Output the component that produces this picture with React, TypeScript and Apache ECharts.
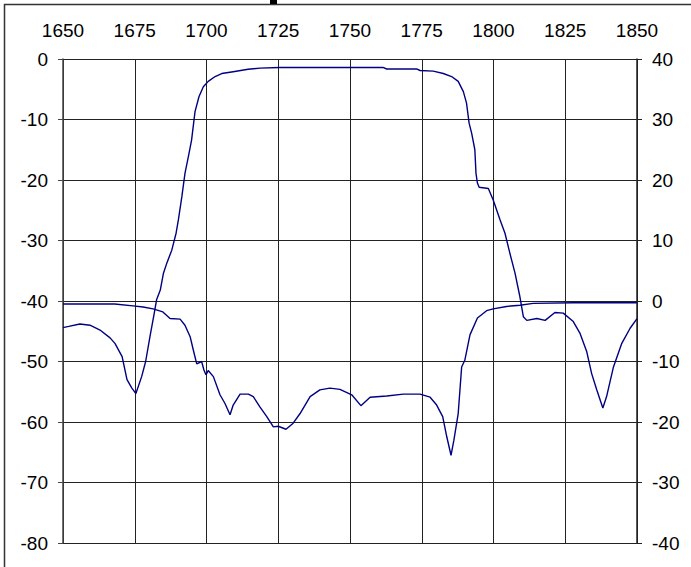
import React, { useEffect, useRef } from "react";
import * as echarts from "echarts";

const xTicks = [1650, 1675, 1700, 1725, 1750, 1775, 1800, 1825, 1850];

// Transmission (left axis, dB)
const s21Freq = [1650, 1652, 1655.9, 1659.4, 1662.9, 1666.4, 1668.1, 1670.6, 1672.3, 1674, 1675.4, 1677.4, 1678.8, 1680.3, 1681.8, 1682.6, 1683.9, 1685, 1686.2, 1687.9, 1689.4, 1690.2, 1691.4, 1692.5, 1693.7, 1694.8, 1696, 1697.4, 1698.9, 1700.6, 1703, 1705.3, 1709.3, 1714.5, 1718.6, 1725.6, 1761.5, 1762.8, 1773.2, 1774.4, 1779, 1782.5, 1785.4, 1787.7, 1789.5, 1790.6, 1791.5, 1792.4, 1793.5, 1793.9, 1794.4, 1795, 1798.2, 1799.9, 1802.3, 1804, 1805.7, 1807.5, 1809.2, 1810.4, 1811.6, 1815.1, 1818, 1821.4, 1824.3, 1827.8, 1830.1, 1832.5, 1834.2, 1836, 1838.1, 1839.4, 1841.8, 1844.7, 1847.6, 1850];
const s21Vals = [-44.4, -44.2, -43.8, -44.0, -44.8, -46.1, -47.0, -49.2, -53.0, -54.4, -55.3, -52.5, -50.0, -45.9, -42.0, -39.8, -38.2, -35.4, -33.7, -31.6, -28.8, -26.6, -22.8, -18.9, -16.1, -13.4, -8.7, -6.2, -4.6, -3.7, -2.9, -2.4, -2.1, -1.7, -1.5, -1.4, -1.4, -1.65, -1.65, -1.9, -2.0, -2.4, -2.9, -3.7, -5.4, -7.3, -10.6, -12.3, -15, -18.9, -20.5, -21.2, -21.4, -23.3, -26.6, -28.8, -32.1, -35.4, -39.3, -42.6, -43.2, -42.9, -43.2, -41.9, -42.0, -43.4, -45.3, -48.4, -52, -54.7, -57.7, -55.8, -50.9, -47, -44.5, -42.9];

// Reflection (right axis, dB)
const s11Freq = [1650, 1668, 1674.4, 1677.9, 1681.4, 1684.8, 1687.3, 1690.8, 1692.5, 1694.3, 1695.4, 1696.6, 1698.3, 1699.1, 1699.8, 1700.6, 1702.4, 1704.7, 1706.4, 1708.2, 1709.3, 1711.7, 1714.6, 1716.3, 1718.6, 1721, 1723.3, 1725, 1727.7, 1730.2, 1732.6, 1736.1, 1739.5, 1743, 1746.5, 1750.6, 1753.8, 1757, 1762.8, 1768.6, 1774.4, 1777.9, 1780.2, 1782.3, 1783.7, 1785.2, 1786.2, 1787.7, 1788.9, 1790, 1791.8, 1794.4, 1797.6, 1799.9, 1804.5, 1809.2, 1813.8, 1827.8, 1850];
const s11Vals = [-0.5, -0.5, -0.8, -1.0, -1.3, -1.8, -2.9, -3.0, -4.0, -5.9, -8.1, -10.4, -10.0, -11.4, -12.2, -11.5, -12.5, -15.5, -16.9, -18.8, -17.2, -15.4, -15.4, -15.8, -17.5, -19.1, -20.8, -20.7, -21.2, -20.2, -18.6, -15.8, -14.7, -14.4, -14.6, -15.5, -17.3, -15.9, -15.7, -15.4, -15.4, -15.9, -17.2, -19.1, -22.4, -25.5, -23.0, -18.6, -10.9, -9.8, -5.6, -2.8, -1.6, -1.3, -0.9, -0.7, -0.4, -0.3, -0.3];

const FONT = "'Liberation Sans', Arial, sans-serif";

export default function App() {
  const ref = useRef<HTMLDivElement>(null);
  useEffect(() => {
    if (!ref.current) return;
    const chart = echarts.init(ref.current, undefined, { renderer: "svg" });
    const labelStyle = { color: "#000", fontSize: 19, fontFamily: FONT, formatter: (v: number) => String(v) };
    chart.setOption({
      animation: false,
      backgroundColor: "#fff",
      grid: { left: 63, top: 59, right: 54, bottom: 24, containLabel: false },
      graphic: [
        { type: "rect", shape: { x: 4.5, y: 4.5, width: 720, height: 620 }, style: { fill: "none", stroke: "#333", lineWidth: 1.5 }, silent: true },
        { type: "rect", shape: { x: 270, y: 0, width: 7, height: 4 }, style: { fill: "#000" }, silent: true },
      ],
      xAxis: {
        type: "value",
        position: "top",
        min: xTicks[0],
        max: xTicks[xTicks.length - 1],
        interval: 25,
        axisLine: { show: false },
        axisTick: { show: false },
        axisLabel: { ...labelStyle, margin: 19 },
        splitLine: { show: true, lineStyle: { color: "#222", width: 1 } },
      },
      yAxis: [
        {
          type: "value",
          position: "left",
          min: -80,
          max: 0,
          interval: 10,
          axisLine: { show: true, onZero: false, lineStyle: { color: "#444", width: 1.5 } },
          axisTick: { show: true, length: 5, lineStyle: { color: "#444" } },
          axisLabel: { ...labelStyle, margin: 15 },
          splitLine: { show: true, lineStyle: { color: "#222", width: 1 } },
        },
        {
          type: "value",
          position: "right",
          min: -40,
          max: 40,
          interval: 10,
          axisLine: { show: true, onZero: false, lineStyle: { color: "#222", width: 1.5 } },
          axisTick: { show: true, length: 5, lineStyle: { color: "#222" } },
          axisLabel: { ...labelStyle, margin: 15 },
          splitLine: { show: false },
        },
        {
          type: "value",
          position: "right",
          min: -40,
          max: 40,
          interval: 10,
          axisLine: { show: false },
          axisTick: { show: true, inside: true, length: 6, lineStyle: { color: "#222" } },
          axisLabel: { show: false },
          splitLine: { show: false },
        },
      ],
      series: [
        {
          type: "line",
          yAxisIndex: 0,
          data: s21Freq.map((f, i) => [f, s21Vals[i]]),
          showSymbol: false,
          lineStyle: { color: "#000080", width: 1.4 },
          z: 3,
        },
        {
          type: "line",
          yAxisIndex: 1,
          data: s11Freq.map((f, i) => [f, s11Vals[i]]),
          showSymbol: false,
          lineStyle: { color: "#000080", width: 1.4 },
          z: 3,
        },
      ],
    });
    return () => chart.dispose();
  }, []);
  return (
    <div
      ref={ref}
      style={{ position: "absolute", left: 0, top: 0, width: 691, height: 567, background: "#fff" }}
    />
  );
}
